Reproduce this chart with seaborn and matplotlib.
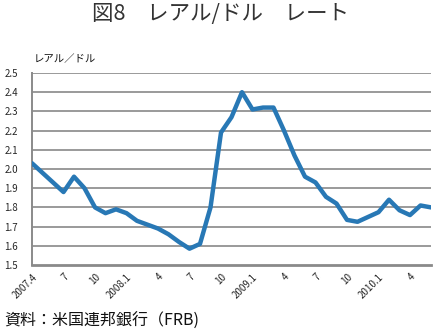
import matplotlib
matplotlib.use("Agg")
import matplotlib.pyplot as plt
import seaborn as sns
import numpy as np
import pandas as pd

months = ["2007.4","2007.5","2007.6","2007.7","2007.8","2007.9","2007.10","2007.11","2007.12",
          "2008.1","2008.2","2008.3","2008.4","2008.5","2008.6","2008.7","2008.8","2008.9",
          "2008.10","2008.11","2008.12","2009.1","2009.2","2009.3","2009.4","2009.5","2009.6",
          "2009.7","2009.8","2009.9","2009.10","2009.11","2009.12","2010.1","2010.2","2010.3",
          "2010.4","2010.5","2010.6"]
rate = [2.03, 1.98, 1.93, 1.88, 1.96, 1.90, 1.80, 1.77, 1.79,
        1.77, 1.73, 1.71, 1.69, 1.66, 1.62, 1.585, 1.61, 1.80,
        2.19, 2.27, 2.40, 2.31, 2.32, 2.32, 2.20, 2.07, 1.96,
        1.93, 1.855, 1.82, 1.735, 1.725, 1.75, 1.775, 1.84, 1.785,
        1.76, 1.81, 1.80]
tick_labels = ["2007.4","7","10","2008.1","4","7","10","2009.1","4","7","10","2010.1","4"]
yticks = [1.5,1.6,1.7,1.8,1.9,2.0,2.1,2.2,2.3,2.4,2.5]

sns.set_theme(style="white")
plt.rcParams['font.family'] = ['Noto Sans CJK JP', 'DejaVu Sans']

df = pd.DataFrame({"idx": np.arange(len(months)), "rate": rate})

fig = plt.figure(figsize=(4.37, 3.33), dpi=100)
ax = fig.add_axes([32/437, 1-265/333, (431-32)/437, (265-73)/333])

for y in yticks[1:]:
    ax.axhline(y, color="#9a9a9a", lw=1.4, zorder=1)

sns.lineplot(data=df, x="idx", y="rate", ax=ax, color="#2878b5", lw=3.2, zorder=3)

ax.set_xlim(0, len(months)-1)
ax.set_ylim(1.5, 2.5)
ax.set_yticks(yticks)
ax.set_yticklabels([f"{v:.1f}" for v in yticks], fontsize=7)
ax.set_xticks(np.arange(0, len(months), 3))
ax.set_xticklabels(tick_labels, fontsize=7, rotation=45, ha="right", rotation_mode="anchor")
ax.tick_params(axis="x", length=3, width=1, color="#888888", pad=2, direction="out")
ax.tick_params(axis="y", length=0, pad=10)
ax.set_xlabel("")
ax.set_ylabel("")
for s in ["top", "right"]:
    ax.spines[s].set_visible(False)
ax.spines["left"].set_color("#8a8a8a")
ax.spines["left"].set_linewidth(1.4)
ax.spines["bottom"].set_color("#8a8a8a")
ax.spines["bottom"].set_linewidth(2.0)
ax.grid(False)

fig.text(220/437, 1-14/333, "図8　レアル/ドル　レート", ha="center", va="center", fontsize=15.5, color="#333333")
fig.text(34/437, 1-59/333, "レアル／ドル", ha="left", va="center", fontsize=7.5, color="#111111")
fig.text(4/437, 1-321/333, "資料：米国連邦銀行（FRB)", ha="left", va="center", fontsize=11.5, color="#111111")

fig.savefig("out.png", dpi=100)
